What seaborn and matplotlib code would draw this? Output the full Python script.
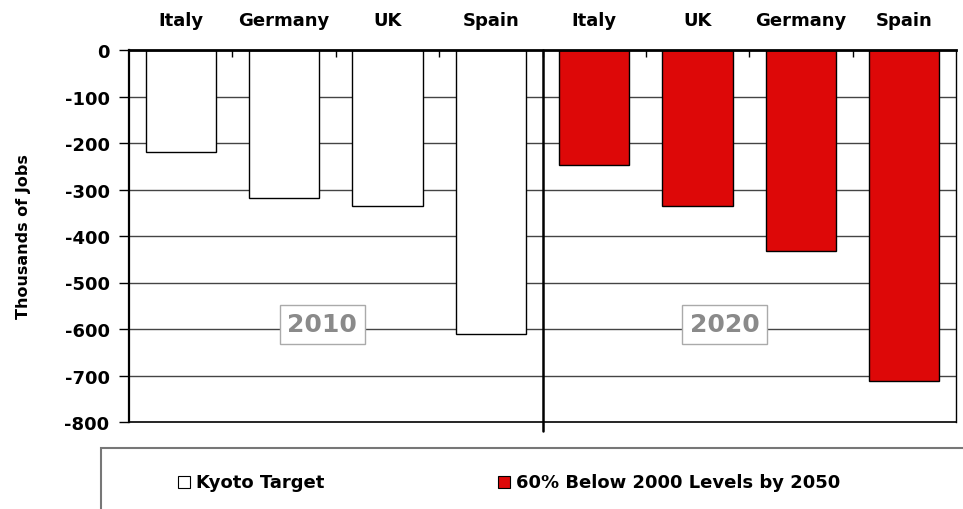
import numpy as np
import pandas as pd
import matplotlib
matplotlib.use("Agg")
import matplotlib.pyplot as plt
import seaborn as sns
from matplotlib.patches import Rectangle

# data
countries_2010 = ["Italy", "Germany", "UK", "Spain"]
values_2010 = [-220, -318, -336, -611]
countries_2020 = ["Italy", "UK", "Germany", "Spain"]
values_2020 = [-247, -336, -432, -711]
series_names = ["Kyoto Target", "60% Below 2000 Levels by 2050"]
year_labels = ["2010", "2020"]
y_ticks = [0, -100, -200, -300, -400, -500, -600, -700, -800]

labels = countries_2010 + countries_2020
df = pd.DataFrame({
    "slot": [str(i) for i in range(len(labels))],
    "value": values_2010 + values_2020,
    "series": [series_names[0]] * 4 + [series_names[1]] * 4,
})

sns.set_style("white")
plt.rcParams["font.family"] = ["DejaVu Sans"]
plt.rcParams["text.color"] = "black"
plt.rcParams["xtick.color"] = "black"
plt.rcParams["ytick.color"] = "black"
plt.rcParams["axes.labelcolor"] = "black"

RED = "#dd0808"

fig = plt.figure(figsize=(9.63, 5.10), dpi=100)
ax = fig.add_axes([129 / 963, 1 - 423 / 510, (956 - 129) / 963, (423 - 51) / 510])

for y in y_ticks[1:-1]:
    ax.axhline(y, color="#444444", lw=1.0, zorder=0)

sns.barplot(data=df, x="slot", y="value", hue="series", dodge=False, width=0.68,
            palette={series_names[0]: "white", series_names[1]: RED}, saturation=1,
            edgecolor="black", linewidth=1.0, legend=False, ax=ax, zorder=2)

ax.set_ylim(-800, 0)
ax.set_xlim(-0.5, len(labels) - 0.5)
ax.set_yticks(y_ticks)
ax.set_yticklabels([str(v) for v in y_ticks], fontsize=13, fontweight="bold")
ax.tick_params(axis="y", direction="out", length=7, width=1, left=True, pad=7)

ax.xaxis.tick_top()
ax.set_xticks(range(len(labels)))
ax.set_xticklabels(labels, fontsize=13, fontweight="bold")
ax.set_xticks(np.arange(0.5, len(labels) - 0.5, 1.0), minor=True)
ax.tick_params(axis="x", which="major", length=0, pad=15)
ax.tick_params(axis="x", which="minor", direction="in", length=5, width=1, top=True)
ax.set_xlabel("")
ax.set_ylabel("Thousands of Jobs", fontsize=11.5, fontweight="bold", labelpad=24)

for side in ["left", "right", "bottom", "top"]:
    ax.spines[side].set_visible(True)
    ax.spines[side].set_color("black")
ax.spines["top"].set_linewidth(2)
ax.spines["left"].set_linewidth(1.6)
ax.spines["bottom"].set_linewidth(1.2)
ax.spines["right"].set_linewidth(1.0)

# divider between the two periods
ax.plot([3.5, 3.5], [0, -820], color="black", lw=1.8, clip_on=False, zorder=3)

for xpos, lab in zip([1.5 - 0.13, 5.5 - 0.24], year_labels):
    ax.text(xpos, -590, lab, ha="center", va="center", fontsize=18, fontweight="bold",
            color="#8a8a8a", zorder=4,
            bbox=dict(boxstyle="square,pad=0.3", fc="white", ec="#aaaaaa", lw=1))

# legend box
fig.patches.append(Rectangle((101 / 963, -0.05), 0.95, 1 - 449 / 510 + 0.05,
                             transform=fig.transFigure, fc="white", ec="#777777", lw=1.5))
ly = 1 - 483 / 510
fig.patches.append(Rectangle((178 / 963, ly - 6 / 510), 12 / 963, 12 / 510,
                             transform=fig.transFigure, fc="white", ec="black", lw=0.8))
fig.text(196 / 963, ly, series_names[0], fontsize=13, fontweight="bold", va="center")
fig.patches.append(Rectangle((498 / 963, ly - 6 / 510), 12 / 963, 12 / 510,
                             transform=fig.transFigure, fc=RED, ec="black", lw=0.8))
fig.text(516 / 963, ly, series_names[1], fontsize=13, fontweight="bold", va="center")

fig.savefig("out.png", dpi=100)
